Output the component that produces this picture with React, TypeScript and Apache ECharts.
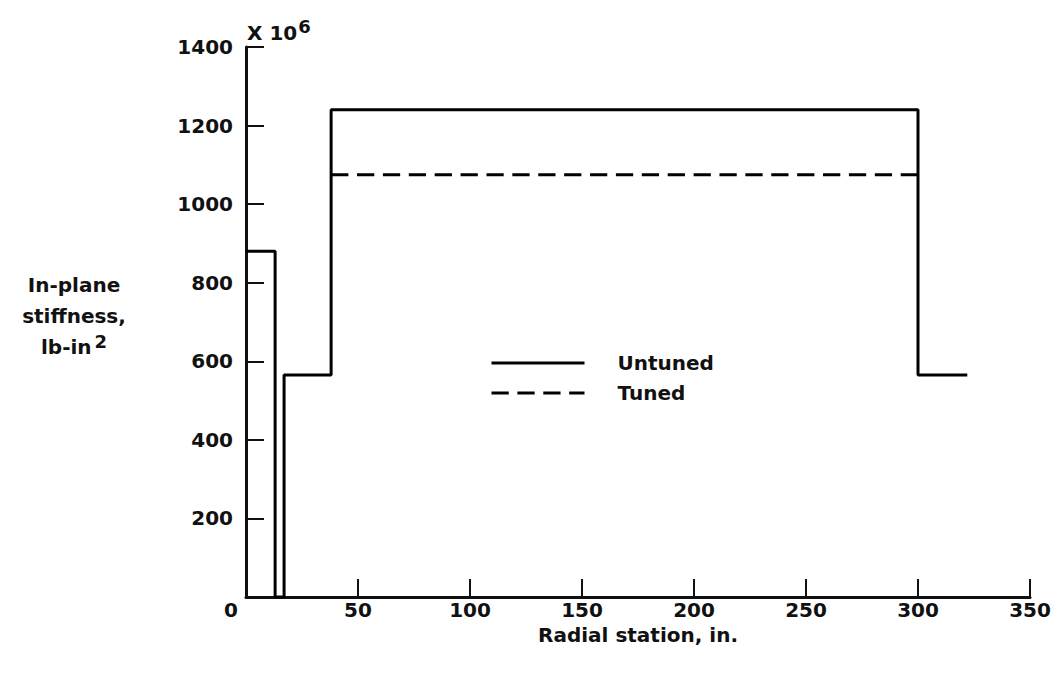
import React, { useEffect, useRef } from "react";
import * as echarts from "echarts";

// Radial station (in.) and in-plane stiffness (x 10^6 lb-in^2)
const untunedX = [0, 13, 13, 17, 17, 38, 38, 300, 300, 322];
const untunedY = [880, 880, 0, 0, 565, 565, 1240, 1240, 565, 565];
const tunedX = [38, 300];
const tunedY = [1075, 1075];

const seriesNames = ["Untuned", "Tuned"];
const xTitle = "Radial station, in.";
const yTitleLines = ["In-plane", "stiffness,", "lb-in{sup|2}"];
const scaleNote = "X 10{sup|6}";

const FONT = "DejaVu Sans";
const INK = "#111";

const pairs = (xs: number[], ys: number[]) => xs.map((x, i) => [x, ys[i]]);

export default function App() {
  const ref = useRef<HTMLDivElement>(null);

  useEffect(() => {
    if (!ref.current) return;
    const chart = echarts.init(ref.current, undefined, { renderer: "svg" });
    const textBase = { fontFamily: FONT, fontWeight: "bold" as const, fontSize: 20, color: INK };

    chart.setOption({
      animation: false,
      backgroundColor: "#fff",
      grid: { left: 246, right: 31, top: 47, bottom: 79 },
      xAxis: {
        type: "value",
        min: 0,
        max: 350,
        interval: 50,
        name: xTitle,
        nameLocation: "middle",
        nameGap: 28,
        nameTextStyle: { ...textBase },
        axisLine: { show: true, lineStyle: { color: INK, width: 3 } },
        axisTick: { show: true, inside: true, length: 18, lineStyle: { color: INK, width: 2 } },
        axisLabel: {
          ...textBase,
          margin: 3,
          formatter: (v: number) => (v === 0 ? "{z|0}" : String(v)),
          rich: { z: { ...textBase, padding: [0, 30, 0, 0] } },
        },
        splitLine: { show: false },
      },
      yAxis: {
        type: "value",
        min: 0,
        max: 1400,
        interval: 200,
        axisLine: { show: true, lineStyle: { color: INK, width: 3 } },
        axisTick: { show: true, inside: true, length: 18, lineStyle: { color: INK, width: 2 } },
        axisLabel: {
          ...textBase,
          margin: 13,
          formatter: (v: number) => (v === 0 ? "" : String(v)),
        },
        splitLine: { show: false },
      },
      legend: {
        orient: "vertical",
        left: 490,
        top: 353,
        padding: 0,
        itemWidth: 93,
        itemHeight: 20,
        itemGap: 10,
        icon: "inherit",
        itemStyle: { opacity: 0 },
        lineStyle: { width: 3, color: "#000" },
        data: seriesNames,
        textStyle: { ...textBase, padding: [0, 0, 0, 28] },
      },
      graphic: [
        ...yTitleLines.map((line, i) => ({
          type: "text",
          x: 74,
          y: 285 + i * 31,
          style: {
            text: line,
            align: "center",
            verticalAlign: "middle",
            ...textBase,
            fill: INK,
            rich: { sup: { ...textBase, fontSize: 18, padding: [0, 0, 12, 3] } },
          },
        })),
        {
          type: "text",
          x: 247,
          y: 33,
          style: {
            text: scaleNote,
            align: "left",
            verticalAlign: "middle",
            ...textBase,
            fill: INK,
            rich: { sup: { ...textBase, fontSize: 18, padding: [0, 0, 14, 1] } },
          },
        },
      ],
      series: [
        {
          name: seriesNames[0],
          type: "line",
          data: pairs(untunedX, untunedY),
          showSymbol: false,
          symbol: "none",
          lineStyle: { color: "#000", width: 3, type: "solid" },
          itemStyle: { color: "#000" },
        },
        {
          name: seriesNames[1],
          type: "line",
          data: pairs(tunedX, tunedY),
          showSymbol: false,
          symbol: "none",
          lineStyle: { color: "#000", width: 3, type: [17.26, 8.63] },
          itemStyle: { color: "#000" },
        },
      ],
    });

    return () => chart.dispose();
  }, []);

  return (
    <div
      ref={ref}
      style={{ position: "fixed", left: 0, top: 0, width: 1061, height: 676, background: "#fff" }}
    />
  );
}
